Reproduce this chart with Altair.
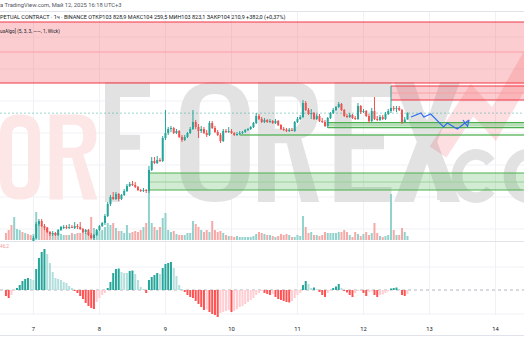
import altair as alt
import pandas as pd

# ---------------- data ----------------
open_ = [96120, 95880, 95700, 95520, 95880, 96060, 96240, 96120, 96300, 96240,
         96180, 96720, 97560, 97740, 97440, 97320, 97080, 96960, 97020, 96900,
         97200, 97320, 97380, 97320, 97380, 97320, 97440, 97380, 97260, 97080,
         97200, 96900, 96720, 96900, 97200, 97440, 97620, 98040, 98760, 99180,
         99060, 99360, 99060, 99300, 99540, 99840, 99960, 99900, 99780, 99600,
         99540, 99600, 99540, 100800, 101340, 101220, 101400, 101340, 102720, 103020,
         103260, 103320, 103020, 103140, 102780, 102600, 102780, 103020, 103260, 103680,
         103380, 103140, 103260, 103020, 102900, 103620, 103320, 103080, 102900, 102540,
         103140, 103080, 103140, 103020, 102900, 102960, 103020, 103080, 103200, 103260,
         103380, 103620, 104040, 103860, 103680, 103800, 103680, 103740, 103620, 103740,
         103500, 103260, 103200, 103140, 103200, 103140, 103680, 103860, 103980, 104820,
         104400, 104160, 104220, 103860, 104040, 103740, 103680, 103440, 103920, 104220,
         104400, 104580, 104760, 104400, 104040, 103980, 104100, 103920, 103860, 104640,
         104280, 104340, 104040, 103740, 104340, 103860, 103800, 103980, 103860, 104160,
         104340, 104520, 104460, 104520, 104400, 103680, 103828.9]
high = [96240, 96000, 95820, 96000, 96180, 96360, 96300, 96420, 96420, 96360,
        96840, 97680, 97860, 97860, 97560, 97380, 97140, 97140, 97080, 97260,
        97440, 97500, 97500, 97560, 97500, 97680, 97560, 97680, 97320, 97260,
        97260, 97020, 96960, 97260, 97500, 97680, 98160, 98880, 99300, 99480,
        99480, 99420, 99360, 99660, 99960, 100080, 100140, 100080, 99840, 99660,
        99720, 99660, 101040, 101580, 101580, 101640, 101520, 102840, 104400, 103380,
        103440, 103380, 103260, 103200, 102900, 102900, 103080, 103380, 104400, 103800,
        103560, 103440, 103380, 103200, 103740, 103740, 103440, 103200, 103020, 103260,
        103260, 103380, 103260, 103080, 103080, 103140, 103140, 103260, 103320, 103440,
        103680, 104220, 104160, 103980, 103920, 103860, 103860, 103800, 103860, 103800,
        103560, 103380, 103320, 103320, 103320, 103740, 103980, 104100, 105000, 104940,
        104520, 104460, 104280, 104160, 104160, 103920, 103800, 103980, 104280, 104520,
        104640, 104880, 104820, 104460, 104160, 104220, 104160, 104040, 104820, 104700,
        104460, 104400, 104160, 104520, 105180, 104040, 104100, 104100, 104280, 104460,
        105840, 104640, 104640, 104640, 104460, 103980, 104259.5]
low = [95760, 95580, 95400, 95460, 95820, 96000, 96000, 96060, 96120, 96120,
       96120, 96660, 97440, 97380, 97200, 97020, 96840, 96840, 96840, 96840,
       97140, 97260, 97260, 97260, 97320, 97260, 97260, 97200, 97020, 96960,
       96840, 96660, 96600, 96840, 97140, 97380, 97500, 97980, 98640, 99000,
       99000, 98940, 99000, 99240, 99480, 99780, 99840, 99720, 99540, 99480,
       99480, 99420, 99420, 100740, 101160, 101160, 101280, 101280, 102600, 102900,
       103080, 102960, 102960, 102720, 102480, 102540, 102720, 102960, 103200, 103260,
       102720, 103020, 102960, 102780, 102840, 103260, 103020, 102840, 102420, 102480,
       103020, 103020, 102960, 102840, 102840, 102900, 102960, 103020, 103140, 103200,
       103320, 103560, 103800, 103620, 103620, 103620, 103620, 103560, 103560, 103440,
       103200, 103140, 103080, 103080, 103140, 103080, 103620, 103800, 103920, 104340,
       104100, 103860, 103800, 103800, 103680, 103620, 103380, 103320, 103860, 104160,
       104340, 104520, 104340, 103980, 103920, 103920, 103860, 103800, 103800, 104160,
       104220, 103980, 103620, 103680, 103800, 103740, 103740, 103800, 103800, 104100,
       104220, 104340, 104280, 104340, 103560, 103620, 103823.1]
close = [95880, 95700, 95520, 95880, 96060, 96240, 96120, 96300, 96240, 96180,
         96720, 97560, 97740, 97440, 97320, 97080, 96960, 97020, 96900, 97200,
         97380, 97380, 97320, 97380, 97320, 97440, 97380, 97260, 97080, 97200,
         96900, 96720, 96900, 97200, 97440, 97620, 98040, 98760, 99180, 99060,
         99360, 99060, 99300, 99540, 99840, 99960, 99900, 99780, 99600, 99540,
         99600, 99540, 100800, 101340, 101220, 101400, 101340, 102720, 103020, 103260,
         103320, 103020, 103140, 102780, 102600, 102780, 103020, 103260, 103680, 103380,
         103140, 103260, 103020, 102900, 103620, 103320, 103080, 102900, 102540, 103140,
         103080, 103140, 103020, 102900, 102960, 103020, 103080, 103200, 103260, 103380,
         103620, 104040, 103860, 103680, 103800, 103680, 103740, 103620, 103740, 103500,
         103260, 103200, 103140, 103200, 103140, 103680, 103860, 103980, 104820, 104400,
         104160, 104220, 103860, 104040, 103740, 103680, 103440, 103920, 104220, 104400,
         104580, 104760, 104400, 104040, 103980, 104100, 103920, 103860, 104640, 104280,
         104340, 104040, 103740, 104340, 103860, 103800, 103980, 103860, 104160, 104340,
         104520, 104460, 104520, 104400, 103680, 103828.9, 104210.9]
volume_k = [3.5, 5, 7.5, 11.5, 5.5, 5, 4, 3.5, 3, 2.5,
            3, 14, 9, 7.5, 6, 6.5, 4, 3.5, 3.5, 3.5,
            3, 2.5, 2.5, 2.5, 3.5, 3, 3.5, 3.5, 4.5, 3.5,
            4, 11.5, 6, 4, 4.5, 5, 6.5, 8.5, 7.5, 8.5,
            6, 4.5, 4.5, 3.5, 7.5, 3.5, 4, 4.5, 4, 5,
            6.5, 8.5, 25, 8.5, 6.5, 5, 6.5, 11, 13.5, 5,
            4, 4.5, 3, 2.5, 2.5, 2.5, 3.5, 3.5, 9.5, 8,
            6.5, 5, 4, 5, 4, 9.5, 5, 4, 4.5, 3.5,
            2.5, 2, 2, 1.5, 2, 1.5, 1.5, 1.5, 1.5, 1.5,
            2, 3, 4, 3.5, 3, 2.5, 2.5, 2, 1.5, 2,
            3, 2.5, 3, 2.5, 1.5, 1.5, 2.5, 2, 12, 6.5,
            3.5, 4, 2.5, 2.5, 2, 2.5, 4, 3.5, 3.5, 3.5,
            3.5, 4, 4, 5, 4, 2.5, 1.5, 4, 3, 2,
            3, 4, 2.5, 3.5, 8.5, 3.5, 2, 1.5, 2, 2.5,
            23, 5, 2.5, 2.5, 6, 4, 2]
macd_hist = [-60, -80, -50, -10, 20, 50, 90, 110, 120, 110,
             100, 210, 320, 380, 410, 360, 270, 180, 120, 110,
             100, 80, 70, 40, 20, -10, -30, -60, -90, -130,
             -160, -180, -190, -120, -80, -50, -30, 20, 80, 170,
             210, 215, 180, 170, 170, 190, 195, 160, 100, 30,
             10, -30, 100, 130, 150, 170, 160, 220, 260, 270,
             280, 220, 140, 50, 10, -20, -50, -70, -80, -110,
             -140, -170, -200, -195, -220, -240, -250, -270, -230, -220,
             -210, -200, -220, -210, -190, -170, -160, -140, -120, -100,
             -80, -50, -30, -10, -30, -40, -50, -40, -70, -90,
             -100, -110, -120, -125, -110, -80, -50, -30, 50, 90,
             60, 20, 25, 10, -20, -50, -70, -30, -10, 20,
             35, 60, 20, -10, -25, -50, -70, -30, -10, -5,
             -30, -60, -20, -15, -50, -70, -50, -45, -30, -15,
             15, 20, 25, 10, -50, -60, -40]
day_labels = ["7", "8", "9", "10", "11", "12", "13", "14"]
last_price = 104210.9

# zones: start hour (since May 6 00:00), top, bottom
zone_start = [0, 154, 131, 99, 66]
zone_top = [109680, 105840, 103638, 102960, 100620]
zone_bot = [106020, 105000, 103338, 102840, 99600]
zone_kind = ["supply", "supply", "demand", "demand", "demand"]
# zone border / middle lines
line_start = [0, 0, 0, 154, 154, 154, 131, 131, 131, 99, 66, 66, 66]
line_level = [109680, 107880, 106020, 105840, 105420, 105000, 103638, 103500, 103338,
              102900, 100620, 100080, 99600]
line_kind = ["supply", "mid_s", "supply", "supply", "mid_s", "supply", "demand", "mid_d",
             "demand", "demand", "demand", "mid_d", "demand"]
# projected path
proj_hr = [161.3, 164.9, 165.95, 168.45, 173.1, 174.5, 178.1, 182.36]
proj_px = [103980, 104220, 103980, 104160, 103380, 103620, 103260, 103800]
price_grid = [108780, 106860, 104940, 103020, 101100, 99180, 97260]
hist_grid = [230, -240]

# ---------------- frames ----------------
times = pd.date_range("2025-05-06 14:00", periods=len(close), freq="h")
hrs = ((times - pd.Timestamp("2025-05-06")) / pd.Timedelta(hours=1)).astype(float)

PANE_BOTTOM = 96540
df = pd.DataFrame({"hr": hrs, "o": open_, "h": high, "l": low, "c": close,
                   "vol": volume_k, "hist": macd_hist})
up = df["c"] >= df["o"]
df["ccol"] = up.map({True: "#26A69A", False: "#EF5350"})
df["vcol"] = up.map({True: "#92D2CC", False: "#F7A9A7"})
prev = df["hist"].shift(1)
df["hcol"] = [
    ("#26A69A" if p < v else "#B2DFDB") if v >= 0 else ("#FFCDD2" if p < v else "#FF5252")
    for v, p in zip(df["hist"], prev.fillna(1e9))
]
cd = df[df["h"] >= PANE_BOTTOM].copy()
cd["lo"] = cd["l"].clip(lower=PANE_BOTTOM)
cd["b0"] = cd[["o", "c"]].min(axis=1).clip(lower=PANE_BOTTOM)
cd["b1"] = cd[["o", "c"]].max(axis=1)

zones = pd.DataFrame({"x1": zone_start, "x2": 260, "top": zone_top, "bot": zone_bot,
                      "kind": zone_kind})
zones["fill"] = zones["kind"].map({"supply": "#F23645", "demand": "#4CAF50"})
zlines = pd.DataFrame({"x1": line_start, "x2": 260, "lv": line_level, "kind": line_kind})
zlines["col"] = zlines["kind"].map({"supply": "#F23645", "mid_s": "#F7A0A6",
                                    "demand": "#4CAF50", "mid_d": "#9CD09F"})
proj = pd.DataFrame({"hr": proj_hr, "p": proj_px, "seg": "path"})
tip_hr, tip_p = proj_hr[-1], proj_px[-1]
arrow = pd.DataFrame({"hr": [tip_hr - 2.2, tip_hr, tip_hr - 0.5],
                      "p": [tip_p, tip_p, tip_p - 380]})
days = pd.DataFrame({"lab": day_labels, "hr": [24.0 * (int(d) - 6) for d in day_labels]})

# ---------------- scales ----------------
XS = alt.Scale(domain=[13.657, 200.55], nice=False, zero=False)
PRICE = alt.Scale(domain=[PANE_BOTTOM, 110280], range=[241, 12], nice=False, zero=False)
VOL = alt.Scale(domain=[0, 25], range=[240, 190], nice=False, zero=False)
HIST = alt.Scale(domain=[-400, 400], range=[330, 250], nice=False, zero=False)


def X(f="hr"):
    return alt.X(f"{f}:Q", scale=XS, axis=None)


one = pd.DataFrame({"a": [0]})
FONT = "Roboto"
layers = []

# grid
layers.append(alt.Chart(days).mark_rule(color="#F0F1F4", strokeWidth=1).encode(
    x=X(), y=alt.value(12), y2=alt.value(315)))
layers.append(alt.Chart(pd.DataFrame({"g": price_grid})).mark_rule(
    color="#F0F1F4", strokeWidth=1).encode(
    y=alt.Y("g:Q", scale=PRICE, axis=None), x=alt.value(0), x2=alt.value(524)))
layers.append(alt.Chart(pd.DataFrame({"g": hist_grid})).mark_rule(
    color="#F0F1F4", strokeWidth=1).encode(
    y=alt.Y("g:Q", scale=HIST, axis=None), x=alt.value(0), x2=alt.value(524)))

# watermark (decorative)
def o_path(hw, iw, ih):
    a = 1 - hw
    b = ih - iw
    return (f"M{-hw},{-a}Q{-hw},-1 0,-1Q{hw},-1 {hw},{-a}L{hw},{a}Q{hw},1 0,1Q{-hw},1 {-hw},{a}Z"
            f"M{-iw},{-b}L{-iw},{b}Q{-iw},{ih} 0,{ih}Q{iw},{ih} {iw},{b}L{iw},{-b}"
            f"Q{iw},{-ih} 0,{-ih}Q{-iw},{-ih} {-iw},{-b}Z")


def r_path(k):
    return (f"M{-0.5*k},-1L{0.08*k},-1Q{0.5*k},-1 {0.5*k},-0.5Q{0.5*k},-0.12 {0.22*k},-0.06"
            f"L{0.52*k},1L{0.22*k},1L{-0.02*k},0.02L{-0.22*k},0.02L{-0.22*k},1L{-0.5*k},1Z"
            f"M{-0.22*k},-0.76L{-0.22*k},-0.22L{0.04*k},-0.22Q{0.22*k},-0.22 {0.22*k},-0.49"
            f"Q{0.22*k},-0.76 {0.04*k},-0.76Z")


F_PATH = "M-0.375,-1L0.375,-1L0.375,-0.75L-0.125,-0.75L-0.125,-0.12L0.21,-0.12L0.21,0.13L-0.125,0.13L-0.125,1L-0.375,1Z"
E_PATH = "M-0.475,-1L0.475,-1L0.475,-0.75L-0.19,-0.75L-0.19,-0.12L0.35,-0.12L0.35,0.12L-0.19,0.12L-0.19,0.75L0.475,0.75L0.475,1L-0.475,1Z"
X_PATH = "M-0.55,-1L-0.22,-1L0,-0.35L0.22,-1L0.55,-1L0.17,0L0.55,1L0.22,1L0,0.35L-0.22,1L-0.55,1L-0.17,0Z"
C_PATH = "M0.689,-0.643A0.9,1 0 1 0 0.689,0.643L0.383,0.386A0.5,0.6 0 1 1 0.383,-0.386Z"
OO_PATH = "M-0.9,0A0.9,1 0 1 1 0.9,0A0.9,1 0 1 1 -0.9,0ZM-0.45,0A0.45,0.6 0 1 0 0.45,0A0.45,0.6 0 1 0 -0.45,0Z"
DOT_PATH = "M-1,-1L1,-1L1,1L-1,1Z"
GRAY = "#E2E2E2"
PINK = "#FCE6E6"
wm = [
    (o_path(0.47, 0.19, 0.72), 20, 157, 7225, PINK),
    (r_path(1.1), 73, 157, 7225, PINK),
    (F_PATH, 127.5, 142, 14400, GRAY),
    (o_path(0.58, 0.26, 0.8), 215, 142, 14400, GRAY),
    (r_path(1.0), 288, 142, 14400, GRAY),
    (E_PATH, 363, 142, 14400, GRAY),
    (X_PATH, 427, 142, 14400, GRAY),
    (DOT_PATH, 442, 195, 100, GRAY),
    (C_PATH, 476, 176, 2916, GRAY),
    (OO_PATH, 528, 176, 2916, GRAY),
]
for path, cx, cy, size, col in wm:
    layers.append(alt.Chart(one).mark_point(
        shape=path, size=size, filled=True, fill=col, opacity=1, strokeWidth=0).encode(
        x=alt.value(cx), y=alt.value(cy)))

# watermark arrow (decorative zig-zag)
wm_arrow = pd.DataFrame({"k": [0, 1, 2, 3], "px": [438, 472, 494, 536],
                         "py": [152, 100, 124, 50]})
layers.append(alt.Chart(wm_arrow).mark_line(
    color="#F23645", opacity=0.16, strokeWidth=20, strokeJoin="miter", strokeCap="butt").encode(
    x=alt.X("px:Q", scale=None), y=alt.Y("py:Q", scale=None), order="k:Q"))

# zones
layers.append(alt.Chart(zones).mark_rect(clip=True, opacity=0.25).encode(
    x=X("x1"), x2="x2:Q", y=alt.Y("top:Q", scale=PRICE, axis=None), y2="bot:Q",
    color=alt.Color("fill:N", scale=None)))
layers.append(alt.Chart(zlines).mark_rule(clip=True, strokeWidth=1.2).encode(
    x=X("x1"), x2="x2:Q", y=alt.Y("lv:Q", scale=PRICE, axis=None),
    color=alt.Color("col:N", scale=None)))

# volume
layers.append(alt.Chart(df).mark_bar(size=2).encode(
    x=X(), y=alt.Y("vol:Q", scale=VOL, axis=None), y2=alt.datum(0),
    color=alt.Color("vcol:N", scale=None)))

# last price line
layers.append(alt.Chart(pd.DataFrame({"p": [last_price]})).mark_rule(
    color="#26A69A", opacity=0.45, strokeDash=[2, 2], strokeWidth=1).encode(
    y=alt.Y("p:Q", scale=PRICE, axis=None), x=alt.value(0), x2=alt.value(524)))

# candles
layers.append(alt.Chart(cd).mark_rule(strokeWidth=1).encode(
    x=X(), y=alt.Y("lo:Q", scale=PRICE, axis=None), y2="h:Q",
    color=alt.Color("ccol:N", scale=None)))
layers.append(alt.Chart(cd).mark_bar(size=2).encode(
    x=X(), y=alt.Y("b0:Q", scale=PRICE, axis=None), y2="b1:Q",
    color=alt.Color("ccol:N", scale=None)))

# projection
layers.append(alt.Chart(proj).mark_line(color="#2E6BF6", strokeWidth=1.1).encode(
    x=X(), y=alt.Y("p:Q", scale=PRICE, axis=None), order="hr:Q"))
layers.append(alt.Chart(arrow).mark_line(color="#2E6BF6", strokeWidth=1.1).encode(
    x=X(), y=alt.Y("p:Q", scale=PRICE, axis=None)))

# histogram pane
layers.append(alt.Chart(one).mark_rule(color="#B2B5BE", strokeDash=[3, 3], strokeWidth=1).encode(
    y=alt.Y("a:Q", scale=HIST, axis=None), x=alt.value(0), x2=alt.value(524)))
layers.append(alt.Chart(df).mark_bar(size=2).encode(
    x=X(), y=alt.Y("hist:Q", scale=HIST, axis=None), y2=alt.datum(0),
    color=alt.Color("hcol:N", scale=None)))

# pane borders
for yy in [11.5, 241.5, 335.5]:
    layers.append(alt.Chart(one).mark_rule(color="#E0E3EB", strokeWidth=1).encode(
        y=alt.value(yy), x=alt.value(0), x2=alt.value(524)))

# texts
layers.append(alt.Chart(days).mark_text(fontSize=5.8, font=FONT, color="#131722").encode(
    x=X(), y=alt.value(329), text="lab:N"))
texts = [
    ("а TradingView.com, Май 12, 2025 16:18 UTC+3", 0, 5, 5.8, "#50535E"),
    ("PETUAL CONTRACT · 1ч · BINANCE   ОТКР103 828,9   МАКС104 259,5   МИН103 823,1   "
     "ЗАКР104 210,9   +382,0 (+0,37%)", 0, 16.5, 5.5, "#131722"),
    ("uxAlgo] (5, 3, 3, ——, 1, Wick)", 0, 32, 4.8, "#131722"),
    ("46,2", 0, 247, 4.8, "#F49A9A"),
]
for t, tx, ty, fs, col in texts:
    layers.append(alt.Chart(one).mark_text(
        text=t, align="left", baseline="middle", fontSize=fs, font=FONT, color=col).encode(
        x=alt.value(tx), y=alt.value(ty)))

chart = alt.layer(*layers).resolve_scale(y="independent").properties(
    width=524, height=350, padding=0, autosize=alt.AutoSizeParams(type="none"),
    background="white").configure_view(stroke=None)

chart.save("out.html", embed_options={"renderer": "svg", "actions": False})
